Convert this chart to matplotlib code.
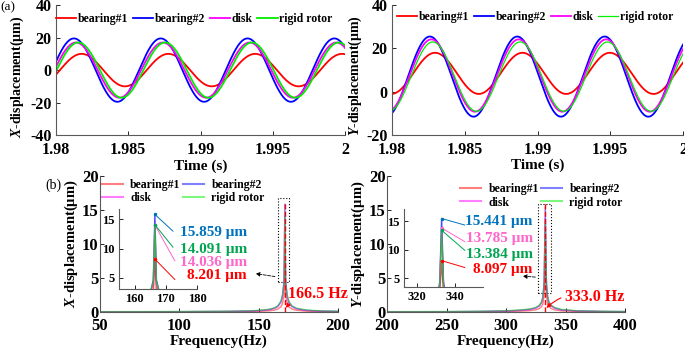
import numpy as np
import matplotlib
matplotlib.use("Agg")
import matplotlib.pyplot as plt
from matplotlib.patches import Rectangle
from matplotlib.ticker import FormatStrFormatter

plt.rcParams['font.family'] = ['Liberation Serif', 'DejaVu Serif']
plt.rcParams['font.weight'] = 'bold'
plt.rcParams['axes.labelweight'] = 'bold'
plt.rcParams['axes.unicode_minus'] = False
plt.rcParams['mathtext.fontset'] = 'custom'
plt.rcParams['mathtext.it'] = 'Liberation Serif:italic:bold'
plt.rcParams['mathtext.rm'] = 'Liberation Serif:bold'

names = ['bearing#1', 'bearing#2', 'disk', 'rigid rotor']
colors = ['#ff0000', '#0000ff', '#ff00ff', '#00ee00']

# --- (a) time response, steady-state sine ---
f_run = 166.5                                   # Hz
x_amp = [10.0, 19.5, 17.0, 17.0]                # um
x_off = [0.0, 0.0, 0.0, 0.0]
x_tpk = [1.98177, 1.98124, 1.98138, 1.98154]    # time of first crest (s)
y_amp = [9.5, 18.5, 16.7, 16.0]
y_off = [8.5, 7.0, 7.5, 7.0]
y_tpk = [1.98296, 1.98260, 1.98270, 1.98280]

# --- (b) amplitude spectra ---
fx = [50, 100, 130, 145, 152, 157, 160, 162, 164, 165, 166, 166.5, 167, 168, 169, 171, 174, 180, 190, 200]
sx_b1 = [0.01, 0.02, 0.04, 0.07, 0.11, 0.18, 0.28, 0.42, 0.75, 1.2, 2.4, 8.201, 2.4, 1.2, 0.75, 0.42, 0.25, 0.12, 0.06, 0.04]
sx_b2 = [0.03, 0.05, 0.09, 0.15, 0.24, 0.38, 0.58, 0.85, 1.5, 2.4, 4.6, 15.859, 4.6, 2.4, 1.5, 0.85, 0.5, 0.25, 0.13, 0.09]
sx_dk = [0.03, 0.05, 0.08, 0.14, 0.22, 0.34, 0.52, 0.76, 1.35, 2.1, 4.1, 14.036, 4.1, 2.1, 1.35, 0.76, 0.45, 0.22, 0.12, 0.08]
sx_rr = [0.05, 0.07, 0.11, 0.18, 0.28, 0.42, 0.62, 0.9, 1.6, 2.5, 4.3, 14.091, 4.3, 2.5, 1.6, 0.9, 0.55, 0.3, 0.16, 0.1]

fy = [200, 250, 280, 300, 312, 320, 325, 328, 330, 331, 332, 333, 334, 335, 336, 338, 341, 347, 360, 380, 400]
sy_b1 = [0.01, 0.02, 0.04, 0.07, 0.12, 0.2, 0.32, 0.5, 0.8, 1.2, 2.3, 8.097, 2.3, 1.2, 0.8, 0.5, 0.3, 0.16, 0.08, 0.04, 0.03]
sy_b2 = [0.03, 0.05, 0.09, 0.15, 0.26, 0.4, 0.62, 0.95, 1.5, 2.3, 4.4, 15.441, 4.4, 2.3, 1.5, 0.95, 0.6, 0.32, 0.16, 0.09, 0.06]
sy_dk = [0.03, 0.04, 0.08, 0.13, 0.23, 0.36, 0.55, 0.85, 1.35, 2.0, 3.9, 13.785, 3.9, 2.0, 1.35, 0.85, 0.54, 0.29, 0.14, 0.08, 0.05]
sy_rr = [0.05, 0.07, 0.11, 0.18, 0.3, 0.45, 0.66, 1.0, 1.5, 2.2, 3.9, 13.384, 3.9, 2.2, 1.5, 1.0, 0.65, 0.36, 0.18, 0.1, 0.07]

peak_x = [8.201, 15.859, 14.036, 14.091]
peak_y = [8.097, 15.441, 13.785, 13.384]
lab_x = ['8.201 μm', '15.859 μm', '14.036 μm', '14.091 μm']
lab_y = ['8.097 μm', '15.441 μm', '13.785 μm', '13.384 μm']
lab_col = ['#ff0000', '#0072bd', '#ff66cc', '#00a550']

fig = plt.figure(figsize=(6.85, 3.5), dpi=100)

def style(ax, fs, xpad=4, ypad=4):
    ax.spines['top'].set_visible(False)
    ax.spines['right'].set_visible(False)
    for s in ['left', 'bottom']:
        ax.spines[s].set_color('0.35')
        ax.spines[s].set_linewidth(0.8)
    ax.tick_params(direction='in', length=3, width=0.6, labelsize=fs)
    ax.tick_params(axis='x', pad=xpad)
    ax.tick_params(axis='y', pad=ypad)
    for lb in ax.get_xticklabels() + ax.get_yticklabels():
        lb.set_fontweight('bold')

# (a) left
t = np.linspace(1.98, 2.0, 1001)
ax1 = fig.add_axes([0.0818, 0.614, 0.4219, 0.3714])
for a, o, tp, c, n in zip(x_amp, x_off, x_tpk, colors, names):
    ax1.plot(t, o + a * np.cos(2 * np.pi * f_run * (t - tp)), color=c, lw=1.3, label=n)
ax1.set_xlim(1.98, 2.0)
ax1.set_ylim(-40, 40)
ax1.set_xticks([1.98, 1.985, 1.99, 1.995, 2.0])
ax1.set_yticks([-40, -20, 0, 20, 40])
ax1.xaxis.set_major_formatter(FormatStrFormatter('%g'))
ax1.set_xlabel('Time (s)', fontsize=11, labelpad=1)
ax1.set_ylabel(r'$\mathit{X}$-displacement(μm)', fontsize=10)
ax1.yaxis.set_label_coords(-0.105, 0.45)
style(ax1, 11.5, 5, 3)
ax1.legend(loc='center left', bbox_to_anchor=(0.0, 0.89), ncol=4, frameon=False,
           fontsize=8.5, handlelength=1.7, handletextpad=0.15, columnspacing=0.4,
           borderpad=0, borderaxespad=0)

# (a) right
ax2 = fig.add_axes([0.5723, 0.614, 0.4248, 0.3714])
for a, o, tp, c, n in zip(y_amp, y_off, y_tpk, colors, names):
    ax2.plot(t, o + a * np.cos(2 * np.pi * f_run * (t - tp)), color=c, lw=1.3 if n != 'rigid rotor' else 0.9, label=n)
ax2.set_xlim(1.98, 2.0)
ax2.set_ylim(-20, 40)
ax2.set_xticks([1.98, 1.985, 1.99, 1.995, 2.0])
ax2.set_yticks([-20, 0, 20, 40])
ax2.xaxis.set_major_formatter(FormatStrFormatter('%g'))
ax2.set_xlabel('Time (s)', fontsize=11, labelpad=0)
ax2.set_ylabel(r'$\mathit{Y}$-displacement(μm)', fontsize=10)
ax2.yaxis.set_label_coords(-0.095, 0.46)
style(ax2, 11.5, 5, 3)
ax2.legend(loc='center left', bbox_to_anchor=(0.017, 0.908), ncol=4, frameon=False,
           fontsize=8.5, handlelength=1.7, handletextpad=0.15, columnspacing=0.4,
           borderpad=0, borderaxespad=0)

# (b) spectra
def spectrum(rect, f, series, xlim, xticks, ylab, pk, rect_box, arr, hz_txt, hz_xy, hz_pos, leg_pos,
             in_rect, in_xlim, in_ylim, in_xticks, peaks, labels, txt_xy, line_end):
    ax = fig.add_axes(rect)
    hs = []
    for s, c, n in zip(series, colors, names):
        hs += ax.plot(f, s, color=c, lw=1.0, alpha=0.5, label=n)
    ax.plot([pk, pk], [0, 16], color='r', ls='--', lw=1.0)
    ax.set_xlim(*xlim)
    ax.set_ylim(0, 20)
    ax.set_xticks(xticks)
    ax.set_yticks([0, 5, 10, 15, 20])
    ax.set_xlabel('Frequency(Hz)', fontsize=11, labelpad=0)
    ax.set_ylabel(ylab, fontsize=10.5, labelpad=1)
    style(ax, 12, 4.5, 1)
    # row-wise order: bearing#1, bearing#2 / disk, rigid rotor
    order = [0, 2, 1, 3]
    leg = ax.legend([hs[i] for i in order], [names[i] for i in order],
                    loc='center left', bbox_to_anchor=leg_pos, ncol=2, frameon=False,
                    fontsize=8.5, handlelength=1.8, handletextpad=0.6, columnspacing=0.2,
                    borderpad=0, borderaxespad=0, labelspacing=0.1)
    for h in leg.get_lines():
        h.set_linewidth(1.5)
    ax.add_patch(Rectangle(rect_box[:2], rect_box[2], rect_box[3], fill=False,
                           ls=':', ec='k', lw=0.8))
    ax.annotate('', xy=arr[1], xytext=arr[0],
                arrowprops=dict(arrowstyle='-|>', ls='--', color='k', lw=0.6, mutation_scale=6))
    ax.annotate(hz_txt, xy=hz_xy, xytext=hz_pos, color='r', fontsize=11.5, va='center', ha='left',
                fontweight='bold',
                arrowprops=dict(arrowstyle='-|>', color='r', lw=0.8, mutation_scale=6,
                                connectionstyle='arc3,rad=0.3', shrinkA=1, shrinkB=0))

    ins = fig.add_axes(in_rect)
    for s, c in zip(series, colors):
        ins.plot(f, s, color=c, lw=1.0, alpha=0.7)
    ins.set_xlim(*in_xlim)
    ins.set_ylim(*in_ylim)
    ins.set_xticks(in_xticks)
    ins.set_yticks([5, 10, 15])
    style(ins, 9, 3, 3)
    for p, lb, c, xy, le in zip(peaks, labels, lab_col, txt_xy, line_end):
        ins.plot([pk, le[0]], [p, le[1]], color=c, lw=0.7, clip_on=False)
        ins.plot([pk], [p], 'o', color=c, ms=1.5, clip_on=False)
        ins.text(xy[0], xy[1], lb, color=c, fontsize=11, fontweight='bold',
                 ha='right', va='center', clip_on=False)
    return ax

spectrum([0.146, 0.1086, 0.3474, 0.3886], fx, [sx_b1, sx_b2, sx_dk, sx_rr], (50, 200),
         [50, 100, 150, 200], r'$\mathit{X}$-displacement(μm)', 166.5,
         (162, 4.4, 7, 12.4), ((162, 5.15), (146.4, 5.7)), '166.5 Hz', (167.2, 0.6), (168.6, 2.6),
         (0.008, 0.886),
         [0.1737, 0.1743, 0.1139, 0.2286], (155, 180), (3.07, 16.8), [160, 170, 180],
         peak_x, lab_x,
         [(196.0, 5.3), (196.0, 12.8), (196.0, 7.7), (196.0, 9.9)],
         [(172.9, 4.7), (172.3, 13.0), (172.9, 7.9), (172.3, 10.25)])

spectrum([0.565, 0.1086, 0.3474, 0.3886], fy, [sy_b1, sy_b2, sy_dk, sy_rr], (200, 400),
         [200, 250, 300, 350, 400], r'$\mathit{Y}$-displacement(μm)', 333.0,
         (327, 2.75, 10.8, 13.15), ((327, 5.1), (311.8, 5.3)), '333.0 Hz', (334.0, 0.6), (349.6, 2.2),
         (0.307, 0.853),
         [0.5898, 0.18, 0.1153, 0.2229], (313, 355), (3.5, 17.1), [320, 340],
         peak_y, lab_y,
         [(381.4, 6.6), (381.4, 15.0), (381.4, 12.0), (381.4, 9.1)],
         [(345.3, 6.9), (345.3, 14.3), (345.3, 11.4), (345.3, 9.9)])

fig.text(0.0, 0.978, '(a)', fontsize=9.5, fontweight='normal', va='center')
fig.text(0.066, 0.471, '(b)', fontsize=10, fontweight='normal', va='center')

fig.savefig('out.png', dpi=100)
